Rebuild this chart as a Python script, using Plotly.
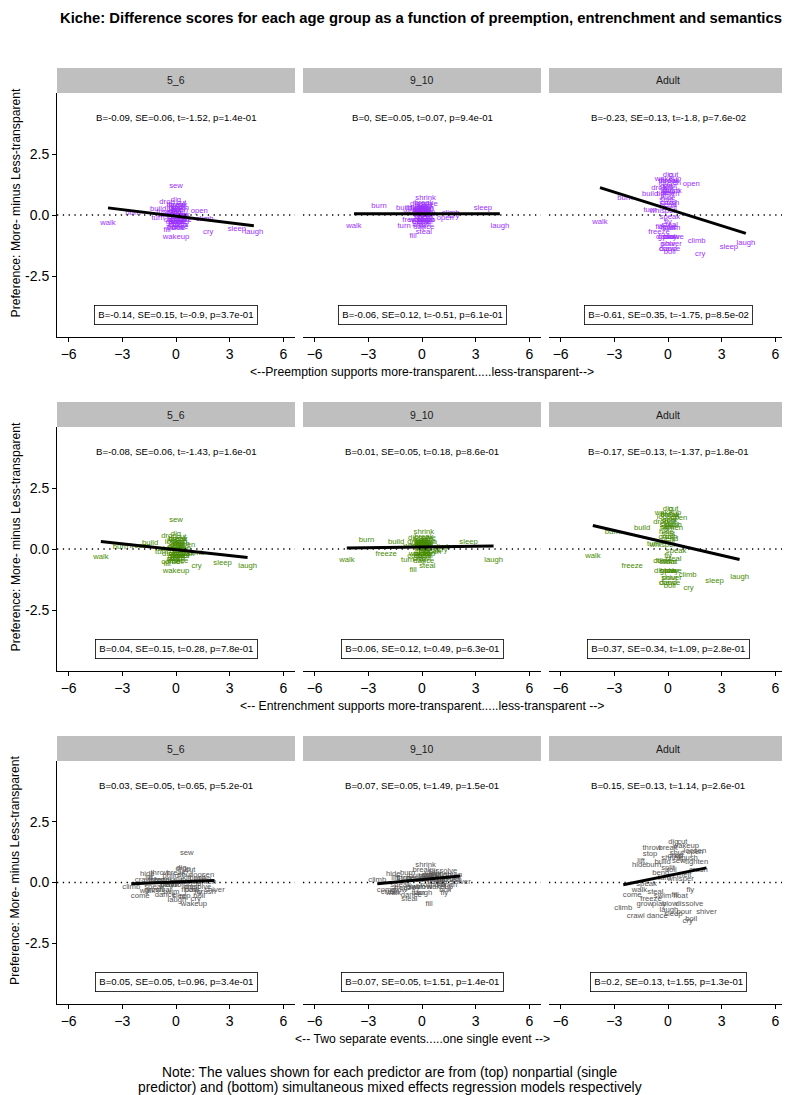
import plotly.graph_objects as go

# verbs and their predictor scores / difference scores
verbs = ["walk", "laugh", "sleep", "cry", "burn", "build", "freeze", "climb",
         "open", "sew", "wakeup", "dig", "cut", "drop", "come", "turn",
         "shrink", "steal", "fill", "fly", "speak", "whisper", "dance", "crawl",
         "shiver", "boil", "dissolve", "float", "swim", "grow", "play", "hide",
         "lift", "throw", "break", "push", "tighten", "loosen", "kill", "stop",
         "roll", "shut", "split", "melt", "bend", "blow", "pour", "crush"]

x_preemption = [-3.8, 4.35, 3.4, 1.8, -2.4, -1.0, -0.5, 1.6,
                1.3, 0.0, 0.0, 0.0, 0.3, -0.5, 0.0, -1.0,
                0.2, 0.1, -0.5, 0.0, 0.1, -0.3, 0.1, 0.0,
                0.2, 0.1, 0.1, 0.0, 0.2, -0.1, 0.1, 0.0,
                -0.2, 0.0, 0.1, 0.2, 0.0, 0.1, 0.0, -0.1,
                0.2, 0.1, -0.1, 0.1, 0.0, 0.2, 0.0, 0.1]
x_entrenchment = [-4.2, 4.0, 2.6, 1.15, -3.1, -1.45, -2.0, 1.1,
                  0.6, 0.0, 0.0, 0.0, 0.3, -0.4, -0.3, -0.8,
                  0.1, 0.3, -0.5, 0.0, 0.45, -0.3, 0.1, 0.0,
                  0.2, 0.1, 0.0, 0.1, 0.0, 0.0, 0.2, -0.1,
                  0.0, 0.1, 0.1, 0.3, 0.2, 0.0, 0.2, 0.0,
                  0.1, 0.1, 0.0, 0.0, 0.1, 0.0, 0.1, 0.0]
x_semantics = [-1.6, 0.05, 0.3, 1.1, -0.8, -0.3, -0.95, -2.5,
               1.5, 0.6, 1.0, 0.3, 0.8, 0.4, -2.0, -0.2,
               0.2, -0.7, 0.4, 1.25, -1.2, 0.7, -0.6, -1.8,
               2.15, 1.3, 1.2, 0.7, -0.3, -1.3, -0.5, -1.6,
               -1.5, -0.9, 0.0, 1.2, 1.6, 1.5, 0.6, -1.0,
               0.2, 0.5, 0.0, 0.9, -0.4, 0.1, 0.9, 1.7]

y_5_6 = [-0.35, -0.72, -0.57, -0.68, 0.08, 0.25, 0.1, -0.17,
         0.16, 1.2, -0.9, 0.6, 0.5, 0.55, -0.55, -0.12,
         0.0, -0.3, -0.6, -0.4, -0.2, 0.0, -0.5, 0.08,
         -0.3, -0.55, -0.2, -0.3, -0.4, -0.3, -0.1, 0.33,
         0.2, 0.4, 0.4, 0.2, 0.0, 0.3, 0.2, 0.1,
         -0.1, 0.3, 0.1, -0.2, -0.1, 0.0, -0.3, -0.4]
y_9_10 = [-0.45, -0.45, 0.27, -0.05, 0.37, 0.27, -0.22, 0.08,
          -0.12, 0.3, -0.2, 0.3, 0.35, 0.3, -0.3, -0.45,
          0.7, -0.68, -0.88, -0.45, -0.1, 0.1, -0.5, -0.4,
          0.03, -0.3, 0.45, 0.0, -0.2, -0.3, -0.2, 0.35,
          0.2, 0.2, 0.5, 0.3, 0.3, 0.1, 0.4, 0.2,
          -0.1, 0.2, 0.1, 0.0, 0.2, -0.2, -0.1, 0.1]
y_adult = [-0.3, -1.15, -1.3, -1.6, 0.7, 0.84, -0.68, -1.05,
           1.27, 0.9, 1.48, 1.65, 1.65, 1.1, -0.5, 0.2,
           1.0, -0.4, -0.5, -0.3, -0.07, 0.15, -1.4, -1.4,
           -1.2, -1.5, -0.9, -0.55, -0.55, -0.9, -0.9, 0.7,
           0.9, 1.4, 1.4, 1.0, 0.85, 1.3, 1.1, 1.15,
           0.5, 1.2, 0.6, 0.3, 0.4, -0.9, -1.2, 0.5]

ages = ["5_6", "9_10", "Adult"]
x_titles = ["<--Preemption supports more-transparent.....less-transparent-->",
            "<-- Entrenchment supports more-transparent.....less-transparent -->",
            "<-- Two separate events.....one single event -->"]
colors = ["#9B30FF", "#458B00", "#555555"]

slopes = [[-0.09, 0.0, -0.23], [-0.08, 0.01, -0.17], [0.03, 0.07, 0.15]]
intercepts = [[-0.05, 0.05, 0.25], [-0.03, 0.08, 0.25], [0.02, 0.12, 0.28]]

top_stats = [
    ["B=-0.09, SE=0.06, t=-1.52, p=1.4e-01", "B=0, SE=0.05, t=0.07, p=9.4e-01", "B=-0.23, SE=0.13, t=-1.8, p=7.6e-02"],
    ["B=-0.08, SE=0.06, t=-1.43, p=1.6e-01", "B=0.01, SE=0.05, t=0.18, p=8.6e-01", "B=-0.17, SE=0.13, t=-1.37, p=1.8e-01"],
    ["B=0.03, SE=0.05, t=0.65, p=5.2e-01", "B=0.07, SE=0.05, t=1.49, p=1.5e-01", "B=0.15, SE=0.13, t=1.14, p=2.6e-01"],
]
bottom_stats = [
    ["B=-0.14, SE=0.15, t=-0.9, p=3.7e-01", "B=-0.06, SE=0.12, t=-0.51, p=6.1e-01", "B=-0.61, SE=0.35, t=-1.75, p=8.5e-02"],
    ["B=0.04, SE=0.15, t=0.28, p=7.8e-01", "B=0.06, SE=0.12, t=0.49, p=6.3e-01", "B=0.37, SE=0.34, t=1.09, p=2.8e-01"],
    ["B=0.05, SE=0.05, t=0.96, p=3.4e-01", "B=0.07, SE=0.05, t=1.51, p=1.4e-01", "B=0.2, SE=0.13, t=1.55, p=1.3e-01"],
]
note_lines = ["Note: The values shown for each predictor are from (top) nonpartial (single",
              "predictor) and (bottom) simultaneous mixed effects regression models respectively"]

# page puts the plot 8px in from the window corner
OFF = 8
W, H = 790 - OFF, 1095 - OFF
FONT = "Liberation Sans, Arial, sans-serif"
col_px = [(57, 295), (303, 541), (549, 787)]
row_px = [(93, 337), (427, 671), (761, 1004)]
strip_h = 25

predictors = [x_preemption, x_entrenchment, x_semantics]
responses = [y_5_6, y_9_10, y_adult]


def px(v):
    return (v - OFF) / W


def py(v):
    return 1 - (v - OFF) / H


def note(text, x, y, size, **kw):
    d = dict(text=text, xref="paper", yref="paper", x=x, y=y, showarrow=False,
             xanchor="center", yanchor="middle",
             font=dict(size=size, color="black", family=FONT))
    d.update(kw)
    return d


fig = go.Figure()
shapes = []
annotations = []

for r in range(3):
    xs = predictors[r]
    for c in range(3):
        i = r * 3 + c + 1
        sfx = "" if i == 1 else str(i)
        xa, ya = "x" + sfx, "y" + sfx
        ys = responses[c]

        fig.add_trace(go.Scatter(
            x=xs, y=ys, text=verbs, mode="text", xaxis=xa, yaxis=ya,
            textfont=dict(color=colors[r], size=7.7, family=FONT),
            hoverinfo="text"))

        x_lo, x_hi = min(xs), max(xs)
        b, a = slopes[r][c], intercepts[r][c]
        fig.add_trace(go.Scatter(
            x=[x_lo, x_hi], y=[a + b * x_lo, a + b * x_hi], mode="lines",
            xaxis=xa, yaxis=ya, line=dict(color="black", width=3),
            hoverinfo="skip"))

        (x0, x1), (y0, y1) = col_px[c], row_px[r]
        fig.layout["xaxis" + sfx] = dict(
            domain=[px(x0), px(x1)], anchor=ya, range=[-6.65, 6.65],
            tickvals=[-6, -3, 0, 3, 6], ticks="outside", ticklen=4,
            tickcolor="black", showline=True, linecolor="black", linewidth=1,
            showgrid=False, zeroline=False,
            tickfont=dict(size=14, color="black", family=FONT))
        ycfg = dict(domain=[py(y1), py(y0)], anchor=xa, range=[-5, 5],
                    showgrid=False, zeroline=False)
        if c == 0:
            ycfg.update(tickvals=[-2.5, 0, 2.5], ticktext=["-2.5", "0.0", "2.5"],
                        ticks="outside", ticklen=4, tickcolor="black",
                        showline=True, linecolor="black", linewidth=1,
                        tickfont=dict(size=14, color="black", family=FONT))
        else:
            ycfg.update(showticklabels=False, showline=False)
        fig.layout["yaxis" + sfx] = ycfg

        shapes.append(dict(type="line", xref=xa + " domain", yref=ya,
                           x0=0, x1=1, y0=0, y1=0,
                           line=dict(color="black", width=1.3, dash="1.3px,4.5px")))
        # facet strip
        shapes.append(dict(type="rect", xref="paper", yref="paper",
                           x0=px(x0), x1=px(x1), y0=py(y0), y1=py(y0 - strip_h),
                           fillcolor="#BFBFBF", line=dict(width=0), layer="below"))
        annotations.append(note(ages[c], px((x0 + x1) / 2), py(y0 - strip_h / 2), 10.5,
                                font=dict(size=10.5, color="#1a1a1a", family=FONT)))

        annotations.append(dict(text=top_stats[r][c], xref=xa, yref=ya, x=0, y=4,
                                showarrow=False, xanchor="center", yanchor="middle",
                                font=dict(size=9.6, color="black", family=FONT)))
        annotations.append(dict(text=bottom_stats[r][c], xref=xa, yref=ya, x=0, y=-4.1,
                                showarrow=False, xanchor="center", yanchor="middle",
                                bgcolor="white", bordercolor="black",
                                borderwidth=0.8, borderpad=3.5,
                                font=dict(size=9.6, color="black", family=FONT)))

    y0, y1 = row_px[r]
    annotations.append(note(x_titles[r], px(422), py(y1 + 35), 12.2))
    annotations.append(note("Preference: More- minus Less-transparent",
                            px(15), py((y0 - strip_h + y1) / 2), 12.2, textangle=-90))

annotations.append(note(
    "<b>Kiche: Difference scores for each age group as a function of preemption, entrenchment and semantics</b>",
    px(421), 1.0, 14.8, yanchor="top"))
for k, line in enumerate(note_lines):
    annotations.append(note(line, px(390), py(1072 + 15 * k), 13.8))

fig.update_layout(
    width=W, height=H, margin=dict(l=0, r=0, t=0, b=0),
    paper_bgcolor="white", plot_bgcolor="white", showlegend=False,
    shapes=shapes, annotations=annotations)

fig.write_html("out.html")
